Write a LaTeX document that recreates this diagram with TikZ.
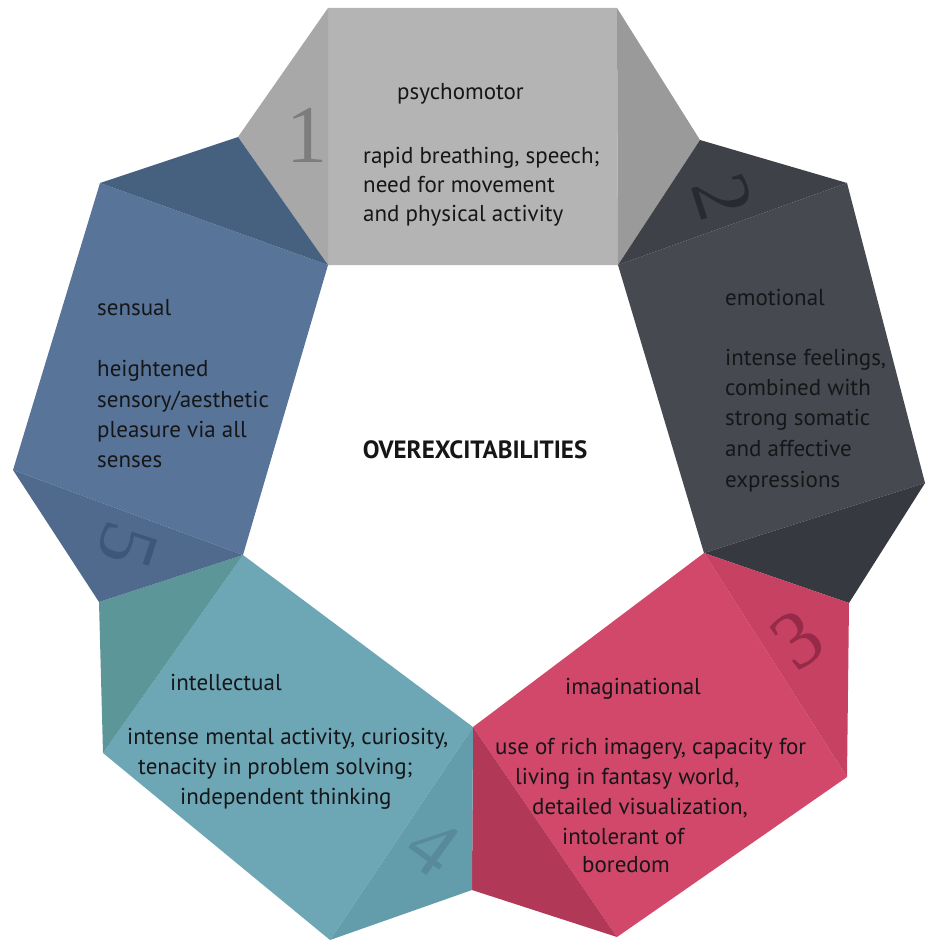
\documentclass[tikz,border=0pt]{standalone}
\usepackage{fontspec}
\setmainfont{PT Sans}
\newfontfamily\numfamily{Liberation Serif}

\newlength{\du}
\setlength{\du}{1pt}

% colours of the five folds
\definecolor{psymain}{RGB}{180,180,180}
\definecolor{psyfold}{RGB}{168,168,168}
\definecolor{psyback}{RGB}{154,154,154}
\definecolor{psynum}{RGB}{125,125,125}
\definecolor{emomain}{RGB}{70,73,80}
\definecolor{emofold}{RGB}{62,65,71}
\definecolor{emoback}{RGB}{54,57,63}
\definecolor{emonum}{RGB}{40,42,47}
\definecolor{imamain}{RGB}{210,72,107}
\definecolor{imafold}{RGB}{199,65,98}
\definecolor{imaback}{RGB}{177,57,87}
\definecolor{imanum}{RGB}{150,42,72}
\definecolor{intmain}{RGB}{109,167,182}
\definecolor{intfold}{RGB}{99,157,172}
\definecolor{intback}{RGB}{92,150,153}
\definecolor{intnum}{RGB}{88,138,154}
\definecolor{senmain}{RGB}{88,117,153}
\definecolor{senfold}{RGB}{79,106,141}
\definecolor{senback}{RGB}{70,96,127}
\definecolor{sennum}{RGB}{62,86,119}
\definecolor{txtcol}{RGB}{22,22,24}

\tikzset{
  lbl/.style={anchor=base west, inner sep=0pt, text=txtcol, font=\fontsize{23}{27}\selectfont},
  numlbl/.style={inner sep=0pt, font=\numfamily\fontsize{82}{82}\selectfont}
}

\begin{document}
\begin{tikzpicture}[x=\du, y=-\du]
\useasboundingbox[fill=white] (0,0) rectangle (928,952);
% inner pentagon
\coordinate (A) at (328,265);
\coordinate (B) at (618,265);
\coordinate (C) at (704,553);
\coordinate (D) at (473,727);
\coordinate (E) at (243,555);
% fold tips
\coordinate (PA) at (238,137);
\coordinate (PB) at (700,140);
\coordinate (PC) at (849,603);
\coordinate (PD) at (472,890);
\coordinate (PE) at (99,602);
% outer corners
\coordinate (g1) at (328,8);
\coordinate (g2) at (617,8);
\coordinate (e1) at (847,183);
\coordinate (e2) at (925,483);
\coordinate (r1) at (847,777);
\coordinate (r2) at (617,937);
\coordinate (t1) at (330,940);
\coordinate (t2) at (103,753);
\coordinate (b1) at (13,470);
\coordinate (b2) at (100,183);

% 1 psychomotor
\fill[psymain] (A) -- (B) -- (g2) -- (g1) -- cycle;
\fill[psyfold] (A) -- (PA) -- (g1) -- cycle;
\fill[psyback] (B) -- (PB) -- (g2) -- cycle;
% 2 emotional
\fill[emomain] (B) -- (C) -- (e2) -- (e1) -- cycle;
\fill[emofold] (B) -- (PB) -- (e1) -- cycle;
\fill[emoback] (C) -- (PC) -- (e2) -- cycle;
% 3 imaginational
\fill[imamain] (C) -- (D) -- (r2) -- (r1) -- cycle;
\fill[imafold] (C) -- (PC) -- (r1) -- cycle;
\fill[imaback] (D) -- (PD) -- (r2) -- cycle;
% 4 intellectual
\fill[intmain] (D) -- (E) -- (t2) -- (t1) -- cycle;
\fill[intfold] (D) -- (PD) -- (t1) -- cycle;
\fill[intback] (E) -- (PE) -- (t2) -- cycle;
% 5 sensual
\fill[senmain] (E) -- (A) -- (b2) -- (b1) -- cycle;
\fill[senfold] (E) -- (PE) -- (b1) -- cycle;
\fill[senback] (A) -- (PA) -- (b2) -- cycle;

% numbers
\node[numlbl, text=psynum] (n1) at (307,135) {1};
\node[numlbl, text=emonum, rotate=-72] (n2) at (723,197) {2};
\node[numlbl, text=imanum, rotate=36] (n3) at (797,640) {3};
\node[numlbl, text=intnum, rotate=-36] (n4) at (433,847) {4};
\node[numlbl, text=sennum, rotate=-108] (n5) at (127,545) {5};

% psychomotor
\node[lbl] (psy0) at (397,100) {psychomotor};
\node[lbl] (psy1) at (363,164) {rapid breathing, speech;};
\node[lbl] (psy2) at (363,193) {need for movement};
\node[lbl] (psy3) at (363,221) {and physical activity};
% emotional
\node[lbl] (emo0) at (725,305) {emotional};
\node[lbl] (emo1) at (725,365) {intense feelings,};
\node[lbl] (emo2) at (725,395) {combined with};
\node[lbl] (emo3) at (725,425) {strong somatic};
\node[lbl] (emo4) at (725,456) {and affective};
\node[lbl] (emo5) at (725,487) {expressions};
% sensual
\node[lbl] (sen0) at (97,315) {sensual};
\node[lbl] (sen1) at (97,376) {heightened};
\node[lbl] (sen2) at (97,407) {sensory/aesthetic};
\node[lbl] (sen3) at (97,437) {pleasure via all};
\node[lbl] (sen4) at (97,467) {senses};
% intellectual
\node[lbl] (int0) at (170,690) {intellectual};
\node[lbl] (int1) at (127,744) {intense mental activity, curiosity,};
\node[lbl] (int2) at (138,774) {tenacity in problem solving;};
\node[lbl] (int3) at (180,804) {independent thinking};
% imaginational
\node[lbl] (ima0) at (565,694) {imaginational};
\node[lbl] (ima1) at (495,754) {use of rich imagery, capacity for};
\node[lbl] (ima2) at (515,784) {living in fantasy world,};
\node[lbl] (ima3) at (532,814) {detailed visualization,};
\node[lbl] (ima4) at (562,844) {intolerant of};
\node[lbl] (ima5) at (582,872) {boredom};

% centre
\node[inner sep=0pt, text=txtcol, font=\bfseries\fontsize{25}{29}\selectfont] (title) at (475,450) {OVEREXCITABILITIES};
\end{tikzpicture}
\end{document}
